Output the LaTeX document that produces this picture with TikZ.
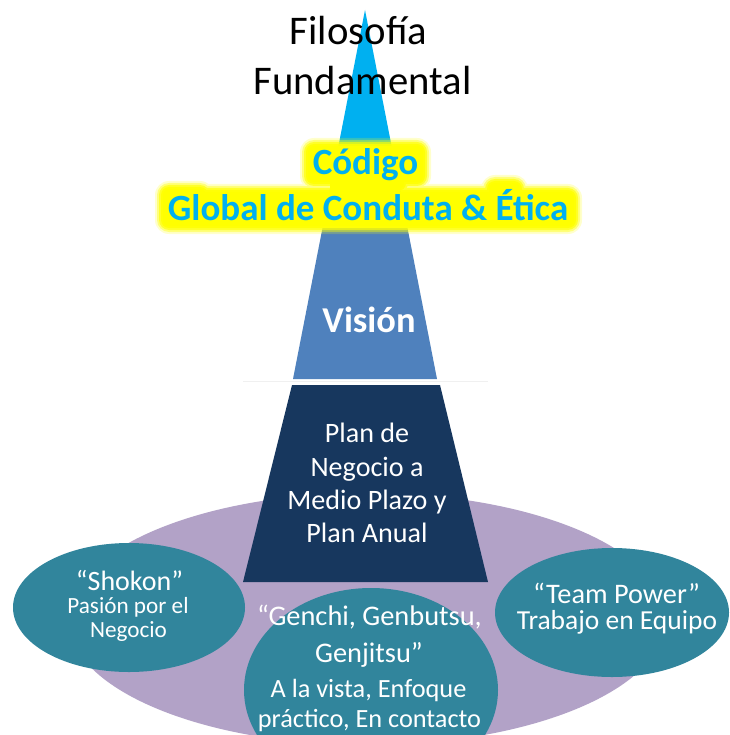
\documentclass[tikz,border=0pt]{standalone}
\usepackage{fontspec}
\setmainfont{Carlito}
\definecolor{lightblue}{HTML}{00B0F0}
\definecolor{midblue}{HTML}{4F81BD}
\definecolor{darkblue}{HTML}{17375E}
\definecolor{purp}{HTML}{B2A2C7}
\definecolor{teal}{HTML}{31859C}
\definecolor{glowy}{HTML}{FFFF00}
\tikzset{
  lbl/.style={anchor=base, inner sep=0pt, outer sep=0pt, text=white},
  codtxt/.style={anchor=base, inner sep=0pt, outer sep=0pt, text=lightblue, font=\fontsize{37}{44}\selectfont\bfseries},
  fillpurp/.style={fill=purp},
  fillteal/.style={fill=teal},
}
\begin{document}
\begin{tikzpicture}[x=1pt,y=-1pt]
\useasboundingbox (0,0) rectangle (729,735);
\clip (0,0) rectangle (729,735);
\fill[white] (0,0) rectangle (729,735);

% big purple ellipse
\fill[fillpurp] (367,619) ellipse [x radius=299pt, y radius=126pt];

% pyramid
\fill[lightblue] (365,10) -- (407,225) -- (323,225) -- cycle;
\fill[midblue] (322.5,228) -- (407.5,228) -- (437,379) -- (293,379) -- cycle;
\draw[black!6, line width=0.8pt] (243,381) -- (488,381);
\fill[darkblue] (292,385) -- (440,385) -- (488,582) -- (243,582) -- cycle;

% teal ellipses
\fill[fillteal] (129,607.5) ellipse [x radius=116pt, y radius=64.5pt];
\fill[fillteal] (612,612.5) ellipse [x radius=117pt, y radius=64.5pt];
\fill[fillteal] (371,690) ellipse [x radius=127pt, y radius=102pt];

% title
\node[lbl, text=black, font=\fontsize{40.7}{48}\selectfont] (fil1) at (358.5,45) {Filosofía};
\node[lbl, text=black, font=\fontsize{40.7}{48}\selectfont] (fil2) at (362.5,95) {Fundamental};

% yellow glow behind the code text (soft layered shapes)
\foreach \r/\op in {14/0.2, 12/0.4, 10/0.65, 8/0.85, 6/1} {
  \begin{scope}[transparency group, opacity=\op]
    \fill[glowy, rounded corners=\r pt] (314-\r,152-\r) rectangle (417+\r,176+\r);
    \fill[glowy, rounded corners=\r pt] (381-\r,170-\r) rectangle (398+\r,183+\r);
    \fill[glowy, rounded corners=\r pt] (169-\r,198-\r) rectangle (568+\r,220+\r);
    \fill[glowy, rounded corners=\r pt] (169-\r,195-\r) rectangle (200+\r,210);
    \fill[glowy, rounded corners=\r pt] (495-\r,189-\r) rectangle (514+\r,210);
    \fill[glowy] (330,170) rectangle (400,200);
  \end{scope}
}
\node[codtxt] (cod1) at (365.5,175) {Código};
\node[codtxt] (cod2) at (368,220) {Global de Conduta \& Ética};

% Vision
\node[lbl, font=\fontsize{36.4}{44}\selectfont\bfseries] (vis) at (369,332) {Visión};

% Plan
\node[lbl, font=\fontsize{28.1}{33}\selectfont] (pl1) at (367,442.7) {Plan de};
\node[lbl, font=\fontsize{28.1}{33}\selectfont] (pl2) at (367,476) {Negocio a};
\node[lbl, font=\fontsize{28.1}{33}\selectfont] (pl3) at (367,509.3) {Medio Plazo y};
\node[lbl, font=\fontsize{28.1}{33}\selectfont] (pl4) at (367,542.7) {Plan Anual};

% Shokon
\node[lbl, font=\fontsize{28}{33}\selectfont] (sh1) at (129.5,590) {“Shokon”};
\node[lbl, font=\fontsize{23.2}{27}\selectfont] (sh2) at (128,613) {Pasión por el};
\node[lbl, font=\fontsize{23.2}{27}\selectfont] (sh3) at (128.5,637) {Negocio};

% Team Power
\node[lbl, font=\fontsize{28.3}{33}\selectfont] (tp1) at (616.5,603.5) {“Team Power”};
\node[lbl, font=\fontsize{27.5}{33}\selectfont] (tp2) at (617,629.5) {Trabajo en Equipo};

% Genchi
\node[lbl, font=\fontsize{28.4}{33}\selectfont] (ge1) at (369.5,625) {“Genchi, Genbutsu,};
\node[lbl, font=\fontsize{28.4}{33}\selectfont] (ge2) at (369,662) {Genjitsu”};
\node[lbl, font=\fontsize{26.3}{31}\selectfont] (ge3) at (368.5,697) {A la vista, Enfoque};
\node[lbl, font=\fontsize{26.3}{31}\selectfont] (ge4) at (369.5,727) {práctico, En contacto};
\end{tikzpicture}
\end{document}
